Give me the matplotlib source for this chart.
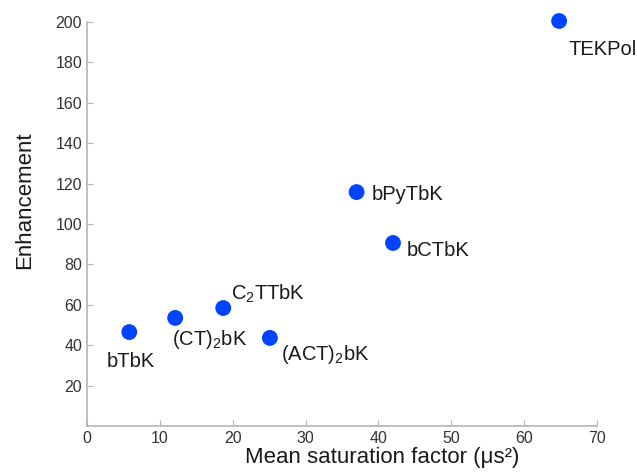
import matplotlib.pyplot as plt

plt.rcParams["font.family"] = ["Liberation Sans", "DejaVu Sans"]
plt.rcParams["mathtext.fontset"] = "custom"
plt.rcParams["mathtext.rm"] = "Liberation Sans"
plt.rcParams["mathtext.it"] = "Liberation Sans:italic"

names = ["bTbK", "(CT)$_2$bK", "C$_2$TTbK", "(ACT)$_2$bK", "bPyTbK", "bCTbK", "TEKPol"]
saturation = [5.8, 12.1, 18.7, 25.1, 37.0, 42.0, 64.8]
enhancement = [46.5, 53.5, 58.4, 43.6, 115.8, 90.6, 200.5]

# label offsets in pixels (dx, dy) from the dot to the text baseline start
offsets = [(-23, -35), (-3, -27), (8, 8), (11, -22), (15, -8), (14, -13), (9, -34)]

fig = plt.figure(figsize=(6.37, 4.73), dpi=100)
ax = fig.add_axes([0.1366, 0.0994, 0.8006, 0.8541])

ax.scatter(saturation, enhancement, s=130, color="#0044ff", edgecolors="none", clip_on=False, zorder=3)
for name, x, y, (dx, dy) in zip(names, saturation, enhancement, offsets):
    ax.annotate(name, (x, y), xytext=(dx, dy), textcoords="offset pixels",
                fontsize=14.5, color="#1a1a1a", va="baseline", ha="left",
                annotation_clip=False)

ax.set_xlim(0, 70)
ax.set_ylim(0, 200)
ax.set_xticks(range(0, 71, 10))
ax.set_yticks(range(20, 201, 20))
for side in ["top", "right"]:
    ax.spines[side].set_visible(False)
for side in ["left", "bottom"]:
    ax.spines[side].set_color("#b4b4b4")
    ax.spines[side].set_linewidth(1.2)
ax.tick_params(direction="in", length=4, color="#b4b4b4", labelsize=11.5, labelcolor="#333333")
ax.set_xlabel("Mean saturation factor (μs²)", fontsize=16, color="#1a1a1a")
ax.set_ylabel("Enhancement", fontsize=16, color="#1a1a1a")
# labels in the source sit off-centre
ax.xaxis.set_label_coords(0.578, -0.052)
ax.yaxis.set_label_coords(-0.102, 0.559)

plt.savefig("out.png")
